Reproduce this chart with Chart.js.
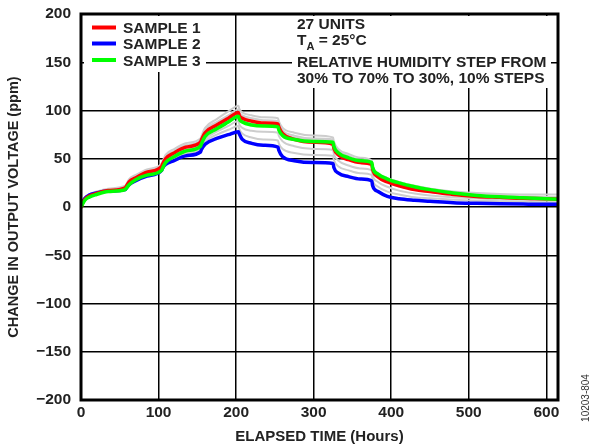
<!DOCTYPE html>
<html>
<head>
<meta charset="utf-8">
<script src="https://cdn.jsdelivr.net/npm/chart.js@4"></script>
<style>
  html, body { margin: 0; padding: 0; background: #fff; }
  #wrap { width: 594px; height: 447px; }
</style>
</head>
<body>
<div id="wrap"><canvas id="chart1" width="594" height="447"></canvas></div>
<script>
// elapsed hours where readings were taken
var hours = [0, 2, 5, 10, 20, 35, 57, 58, 62, 70, 85, 104, 105, 109, 120, 135, 154, 155, 160, 175, 190, 203, 204, 208, 220, 235, 254, 255, 260, 275, 300, 325, 326, 332, 345, 360, 375, 376, 383, 395, 410, 430, 450, 480, 510, 540, 570, 600, 615];

// change in output voltage (ppm)
var sample1 = [-1, 4, 8, 11, 14, 17, 20, 21, 26, 30, 36, 42, 44, 50, 56, 62, 67, 69, 77, 85, 92, 98, 95, 92, 89, 87, 86, 83, 76, 70, 67, 65, 61, 54, 49, 46, 44, 39, 31, 26, 22, 18, 16, 13, 11, 10, 9, 8.5, 8];
var sample2 = [0, 5, 9, 12, 14.5, 16.5, 18, 19, 23, 27, 32, 38, 40, 44, 48, 53, 57, 59, 65, 71, 75, 78, 76, 70, 66, 64, 62, 59, 52, 48, 46, 45, 41, 35, 31.5, 29, 27, 22, 16, 11, 8.5, 7, 6, 4.5, 3.8, 3.3, 3, 2.8, 2.8];
var sample3 = [0, 3, 7, 10, 13, 16, 18, 19, 23, 28, 33, 38, 40, 46, 52, 58, 63, 65, 73, 81, 88, 94, 91, 88, 85, 84, 83, 80, 74, 70, 68, 67, 63, 56, 51, 48, 46, 41, 34, 29, 25, 21, 18, 14.5, 12, 10.5, 9.5, 8.5, 8];

// the other units (gray)
var otherUnits = [
  [0, 6, 10, 13, 16, 19, 22, 23, 29, 33, 39, 45, 47, 54, 60, 66, 71, 73, 82, 91, 99, 105, 102, 98, 95, 93, 92, 89, 82, 77, 74, 72, 68, 60, 55, 51, 48, 43, 35, 30, 26, 22, 19, 16, 14.5, 13.5, 13, 13, 13],
  [0, 5, 9, 12, 15, 18, 21, 22, 27, 31, 37, 43, 45, 52, 58, 64, 69, 71, 80, 88, 95, 101, 98, 95, 92, 90, 89, 86, 79, 74, 71, 70, 66, 58, 53, 49, 47, 42, 34, 28, 24, 20, 17, 14, 12, 11, 10.5, 10, 10],
  [0, 4, 8, 11, 14, 17, 19, 20, 25, 29, 35, 40, 42, 48, 54, 60, 65, 67, 75, 83, 90, 96, 93, 89, 87, 86, 85, 82, 76, 72, 70, 69, 64, 57, 52, 49, 47, 42, 35, 30, 26, 22, 19, 15.5, 13, 11.5, 11, 10.5, 10],
  [0, 4, 8, 11, 14, 17, 19, 20, 24, 28, 34, 39, 41, 47, 52, 57, 61, 63, 70, 78, 84, 89, 86, 82, 79, 78, 77, 74, 68, 63, 60, 59, 55, 48, 43, 40, 38, 33, 26, 21, 17, 14, 12, 10, 9, 8, 7.5, 7, 7],
  [0, 4, 8, 11, 14, 16, 18, 19, 23, 27, 33, 38, 40, 45, 50, 55, 60, 62, 68, 75, 80, 84, 81, 76, 72, 70, 69, 66, 60, 56, 54, 53, 49, 42, 38, 35, 33, 28, 21, 16, 13, 10, 9, 7.5, 6.5, 6, 5.5, 5, 5]
];

var yTicks = [-200, -150, -100, -50, 0, 50, 100, 150, 200];
var xTicks = [0, 100, 200, 300, 400, 500, 600];

var sampleNames = ['SAMPLE 1', 'SAMPLE 2', 'SAMPLE 3'];
var sampleColors = ['#ff0000', '#0000ff', '#00ff00'];

var noteLines = ['27 UNITS', 'T', 'RELATIVE HUMIDITY STEP FROM', '30% TO 70% TO 30%, 10% STEPS'];

var FONT = '"Liberation Sans", Arial, sans-serif';

function pts(vals) {
  return hours.map(function (h, i) { return { x: h, y: vals[i] }; });
}

function line(label, vals, color, width, order) {
  return {
    label: label,
    data: pts(vals),
    borderColor: color,
    borderWidth: width,
    borderJoinStyle: 'round',
    cubicInterpolationMode: 'monotone',
    pointRadius: 0,
    order: order
  };
}

var datasets = [];
otherUnits.forEach(function (u, i) {
  datasets.push(line('unit ' + (i + 4), u, '#cdcdcd', 2, 5));
});
datasets.push(line(sampleNames[1], sample2, sampleColors[1], 3.5, 3));
datasets.push(line(sampleNames[0], sample1, sampleColors[0], 3.5, 2));
datasets.push(line(sampleNames[2], sample3, sampleColors[2], 3.5, 1));

// white boxes, legend, notes, frame
var extras = {
  id: 'extras',
  afterDatasetsDraw: function (chart) {
    var c = chart.ctx, a = chart.chartArea;
    c.save();
    c.fillStyle = '#fff';
    c.fillRect(84, 16, 122, 56);
    c.fillRect(292, 16, 259, 72);

    // legend
    c.font = 'bold 15.5px ' + FONT;
    c.textBaseline = 'alphabetic';
    var ly = [27.5, 43.5, 60];
    [0, 1, 2].forEach(function (i) {
      c.strokeStyle = sampleColors[i];
      c.lineWidth = 4;
      c.beginPath();
      c.moveTo(92, ly[i]);
      c.lineTo(116, ly[i]);
      c.stroke();
      c.fillStyle = '#222';
      c.fillText(sampleNames[i], 123, ly[i] + 5.8);
    });

    // notes
    c.fillStyle = '#222';
    c.fillText(noteLines[0], 297, 29);
    c.fillText(noteLines[1], 297, 45);
    var tw = c.measureText('T').width;
    c.font = 'bold 11px ' + FONT;
    c.fillText('A', 297 + tw, 50);
    var aw = c.measureText('A').width;
    c.font = 'bold 15.5px ' + FONT;
    c.fillText(' = 25°C', 297 + tw + aw, 45);
    c.fillText(noteLines[2], 297, 67);
    c.fillText(noteLines[3], 297, 83);

    // frame
    c.strokeStyle = '#000';
    c.lineWidth = 3;
    c.strokeRect(a.left, a.top, a.right - a.left, a.bottom - a.top);

    // figure number
    c.translate(586, 398);
    c.rotate(-Math.PI / 2);
    c.font = '10px ' + FONT;
    c.fillStyle = '#333';
    c.textAlign = 'center';
    c.textBaseline = 'middle';
    c.fillText('10203-804', 0, 0);
    c.restore();
  }
};

var g1 = {
  type: 'line',
  data: { datasets: datasets },
  options: {
    responsive: false,
    animation: false,
    layout: { padding: { top: 14, right: 36, left: 0, bottom: 0 } },
    plugins: { legend: { display: false }, tooltip: { enabled: false } },
    scales: {
      x: {
        type: 'linear',
        min: 0,
        max: 615,
        afterBuildTicks: function (s) { s.ticks = xTicks.map(function (v) { return { value: v }; }); },
        afterFit: function (s) { s.height = 47; s.paddingLeft = 0; s.paddingRight = 0; },
        ticks: {
          includeBounds: false,
          padding: 3,
          color: '#222',
          font: { family: FONT, size: 15.5, weight: 'bold' }
        },
        grid: { color: '#000', lineWidth: 1.5, drawTicks: false },
        border: { display: false },
        title: {
          display: true,
          text: 'ELAPSED TIME (Hours)',
          color: '#222',
          font: { family: FONT, size: 15, weight: 'bold' },
          padding: { top: 0, bottom: 1 }
        }
      },
      y: {
        min: -200,
        max: 200,
        afterBuildTicks: function (s) { s.ticks = yTicks.map(function (v) { return { value: v }; }); },
        afterFit: function (s) { s.width = 81; s.paddingTop = 0; s.paddingBottom = 0; },
        ticks: {
          padding: 10,
          color: '#222',
          font: { family: FONT, size: 15.5, weight: 'bold' },
          callback: function (v) { return v < 0 ? '\u2212' + Math.abs(v) : String(v); }
        },
        grid: { color: '#000', lineWidth: 1.5, drawTicks: false },
        border: { display: false },
        title: {
          display: true,
          text: 'CHANGE IN OUTPUT VOLTAGE (ppm)',
          color: '#222',
          font: { family: FONT, size: 14.5, weight: 'bold' },
          padding: { top: 5, bottom: 0 }
        }
      }
    }
  },
  plugins: [extras]
};

var graf = new Chart(document.getElementById('chart1'), g1);
</script>
</body>
</html>
